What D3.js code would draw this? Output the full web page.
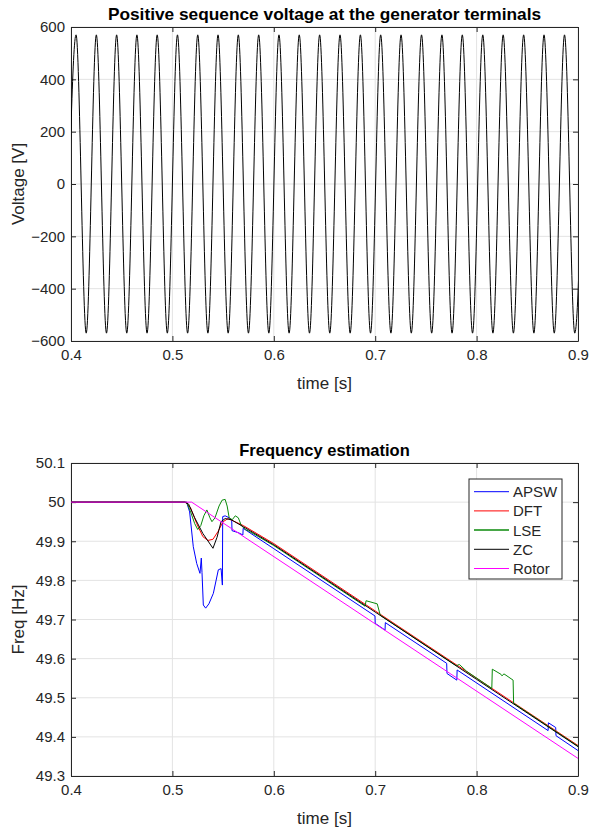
<!DOCTYPE html>
<html>
<head>
<meta charset="utf-8">
<script src="https://cdn.jsdelivr.net/npm/d3@7"></script>
<style>
  body { margin: 0; background: #fff; }
  text { font-family: "Liberation Sans", Arial, sans-serif; fill: #262626; }
</style>
</head>
<body>
<div id="chart"></div>
<script>
// tick values
const timeTicks = [0.4, 0.5, 0.6, 0.7, 0.8, 0.9];
const voltTicks = [-600, -400, -200, 0, 200, 400, 600];
const freqTicks = [49.3, 49.4, 49.5, 49.6, 49.7, 49.8, 49.9, 50, 50.1];

const voltTime = [0.395, 0.405, 0.415, 0.425, 0.435, 0.445, 0.455, 0.465, 0.475, 0.485,
  0.495, 0.505, 0.515, 0.525, 0.535, 0.545, 0.555, 0.565, 0.575, 0.5851,
  0.5951, 0.6051, 0.6151, 0.6251, 0.6352, 0.6452, 0.6552, 0.6653, 0.6753, 0.6854,
  0.6954, 0.7054, 0.7155, 0.7255, 0.7356, 0.7457, 0.7557, 0.7658, 0.7758, 0.7859,
  0.796, 0.8061, 0.8161, 0.8262, 0.8363, 0.8464, 0.8565, 0.8665, 0.8766, 0.8867,
  0.8968, 0.9069];
const voltValue = [-570, 570, -570, 570, -570, 570, -570, 570, -570, 570,
  -570, 570, -570, 570, -570, 570, -570, 570, -570, 570,
  -570, 570, -570, 570, -570, 570, -570, 570, -570, 570,
  -570, 570, -570, 570, -570, 570, -570, 570, -570, 570,
  -570, 570, -570, 570, -570, 570, -570, 570, -570, 570,
  -570, 570];

// frequency estimates
const apswTime = [0.4, 0.514, 0.517, 0.5206, 0.524, 0.5272, 0.5285, 0.5292, 0.5305, 0.5328,
  0.536, 0.5404, 0.5453, 0.548, 0.5493, 0.5496, 0.552, 0.556, 0.5585, 0.5588,
  0.565, 0.5695, 0.5698, 0.6, 0.6998, 0.7, 0.7097, 0.71, 0.7705, 0.7708,
  0.7805, 0.7808, 0.8705, 0.8708, 0.878, 0.8783, 0.9];
const apswFreq = [50, 50, 49.975, 49.886, 49.843, 49.818, 49.857, 49.82, 49.737, 49.729,
  49.74, 49.767, 49.827, 49.83, 49.788, 49.963, 49.965, 49.96, 49.952, 49.927,
  49.922, 49.916, 49.933, 49.881, 49.709, 49.69, 49.673, 49.692, 49.588, 49.562,
  49.545, 49.571, 49.416, 49.436, 49.424, 49.403, 49.365];

const dftTime = [0.4, 0.513, 0.518, 0.524, 0.53, 0.535, 0.54, 0.545, 0.55, 0.555,
  0.56, 0.57, 0.6, 0.7, 0.8, 0.9];
const dftFreq = [50, 50, 49.985, 49.945, 49.912, 49.902, 49.905, 49.925, 49.95, 49.958,
  49.952, 49.94, 49.894, 49.722, 49.55, 49.378];

const lseTime = [0.4, 0.514, 0.518, 0.522, 0.525, 0.528, 0.531, 0.534, 0.537, 0.539,
  0.542, 0.546, 0.549, 0.552, 0.554, 0.556, 0.559, 0.562, 0.565, 0.568,
  0.572, 0.576, 0.6, 0.69, 0.691, 0.702, 0.705, 0.78, 0.783, 0.79,
  0.815, 0.8155, 0.824, 0.825, 0.827, 0.836, 0.8365, 0.9];
const lseFreq = [50, 50, 49.975, 49.945, 49.93, 49.94, 49.965, 49.98, 49.96, 49.95,
  49.96, 49.99, 50.005, 50.007, 49.99, 49.96, 49.955, 49.965, 49.96, 49.94,
  49.93, 49.925, 49.889, 49.734, 49.748, 49.74, 49.711, 49.582, 49.585, 49.568,
  49.524, 49.573, 49.56, 49.556, 49.561, 49.545, 49.486, 49.376];

const zcTime = [0.4, 0.512, 0.516, 0.522, 0.53, 0.54, 0.544, 0.548, 0.552, 0.558,
  0.57, 0.6, 0.7, 0.8, 0.9];
const zcFreq = [50, 50, 49.995, 49.96, 49.92, 49.882, 49.91, 49.95, 49.958, 49.955,
  49.937, 49.891, 49.719, 49.547, 49.375];

const rotorTime = [0.4, 0.519, 0.9];
const rotorFreq = [50, 50, 49.345];

const seriesNames = ["APSW", "DFT", "LSE", "ZC", "Rotor"];
const seriesColors = ["#0000ff", "#ff0000", "#0a8a0a", "#000000", "#ff00ff"];
const seriesData = [[apswTime, apswFreq], [dftTime, dftFreq], [lseTime, lseFreq],
  [zcTime, zcFreq], [rotorTime, rotorFreq]];

const W = 590, H = 827;
const svg = d3.select("#chart").append("svg")
  .attr("width", W).attr("height", H);

const left = 71, right = 578;

// draws box, grid, ticks and labels for one panel
function panel(x, y, yTicks, yFmt, title, titleSize, ylabel, id) {
  const [y0, y1] = y.range();
  const g = svg.append("g");

  g.append("g").selectAll("line").data(timeTicks).join("line")
    .attr("x1", d => x(d)).attr("x2", d => x(d))
    .attr("y1", y1).attr("y2", y0)
    .attr("stroke", "#e3e3e3");
  g.append("g").selectAll("line").data(yTicks).join("line")
    .attr("x1", left).attr("x2", right)
    .attr("y1", d => y(d)).attr("y2", d => y(d))
    .attr("stroke", "#e3e3e3");

  svg.append("clipPath").attr("id", id)
    .append("rect").attr("x", left).attr("y", y1)
    .attr("width", right - left).attr("height", y0 - y1);

  const axes = svg.append("g").attr("class", "axes");
  axes.append("g").attr("transform", `translate(0,${y0})`)
    .call(d3.axisBottom(x).tickValues(timeTicks).tickSizeInner(-5).tickSizeOuter(0)
      .tickPadding(8).tickFormat(d3.format(".1f")));
  axes.append("g").attr("transform", `translate(0,${y1})`)
    .call(d3.axisTop(x).tickValues(timeTicks).tickSizeInner(-5).tickSizeOuter(0).tickFormat(""));
  axes.append("g").attr("transform", `translate(${left},0)`)
    .call(d3.axisLeft(y).tickValues(yTicks).tickSizeInner(-5).tickSizeOuter(0)
      .tickPadding(6).tickFormat(yFmt));
  axes.append("g").attr("transform", `translate(${right},0)`)
    .call(d3.axisRight(y).tickValues(yTicks).tickSizeInner(-5).tickSizeOuter(0).tickFormat(""));
  axes.selectAll("path.domain").attr("stroke", "#262626");
  axes.selectAll(".tick line").attr("stroke", "#262626");
  axes.selectAll(".tick text").attr("font-size", 15)
    .attr("font-family", '"Liberation Sans", Arial, sans-serif').attr("fill", "#262626");

  svg.append("text").attr("x", (left + right) / 2).attr("y", y1 - 7)
    .attr("text-anchor", "middle").attr("font-size", titleSize).attr("font-weight", "bold")
    .style("fill", "#000").text(title);
  svg.append("text").attr("x", (left + right) / 2).attr("y", y0 + 48)
    .attr("text-anchor", "middle").attr("font-size", 17).text("time [s]");
  svg.append("text")
    .attr("transform", `translate(24,${(y0 + y1) / 2}) rotate(-90)`)
    .attr("text-anchor", "middle").attr("font-size", 17).text(ylabel);
}

// ---- top: voltage
const x1 = d3.scaleLinear().domain([0.4, 0.9]).range([left, right]);
const yV = d3.scaleLinear().domain([-600, 600]).range([341, 27]);
panel(x1, yV, voltTicks, d3.format("d"),
  "Positive sequence voltage at the generator terminals", 17.3, "Voltage [V]", "clipV");

svg.append("path")
  .datum(voltTime.map((t, i) => [t, voltValue[i]]))
  .attr("clip-path", "url(#clipV)")
  .attr("fill", "none").attr("stroke", "#000").attr("stroke-width", 1)
  .attr("d", d3.line().curve(d3.curveMonotoneX).x(d => x1(d[0])).y(d => yV(d[1])));

// ---- bottom: frequency
const x2 = d3.scaleLinear().domain([0.4, 0.9]).range([left, right]);
const yF = d3.scaleLinear().domain([49.3, 50.1]).range([776, 463]);
panel(x2, yF, freqTicks, d => String(+d.toFixed(1)),
  "Frequency estimation", 16.5, "Freq [Hz]", "clipF");

const fLine = d3.line().x(d => x2(d[0])).y(d => yF(d[1]));
seriesData.forEach(([ts, fs], i) => {
  svg.append("path")
    .datum(ts.map((t, k) => [t, fs[k]]))
    .attr("clip-path", "url(#clipF)")
    .attr("fill", "none").attr("stroke", seriesColors[i]).attr("stroke-width", 1)
    .attr("d", fLine);
});

// legend
const lg = svg.append("g").attr("transform", "translate(469,479)");
lg.append("rect").attr("width", 93).attr("height", 100)
  .attr("fill", "#fff").attr("stroke", "#262626").attr("stroke-width", 1);
seriesNames.forEach((name, i) => {
  const yy = 12.7 + i * 19.2;
  lg.append("line").attr("x1", 5).attr("x2", 40).attr("y1", yy).attr("y2", yy)
    .attr("stroke", seriesColors[i]).attr("stroke-width", i === 2 ? 1.5 : 1);
  lg.append("text").attr("x", 44).attr("y", yy + 5.5)
    .attr("font-size", 15).text(name);
});
</script>
</body>
</html>
